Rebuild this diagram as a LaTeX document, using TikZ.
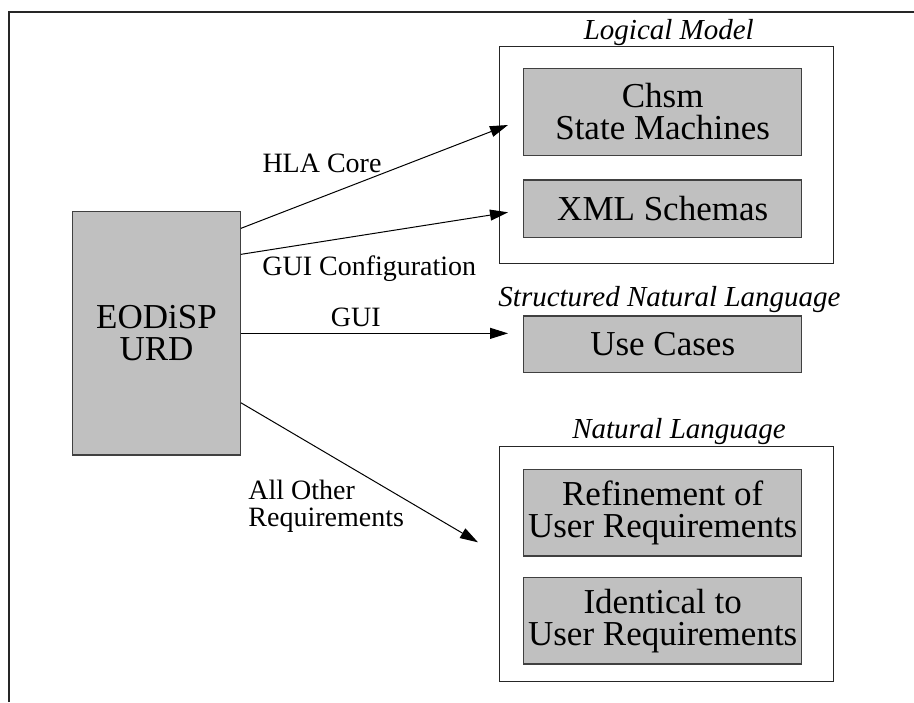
\documentclass[tikz,border=0pt]{standalone}
\usepackage{fontspec}
\setmainfont{Liberation Serif}
\usetikzlibrary{arrows.meta}
\definecolor{boxgray}{RGB}{192,192,192}
\begin{document}
\begin{tikzpicture}[x=0.5pt,y=-0.5pt,
  graybox/.style={draw=black!75, line width=0.6pt, fill=boxgray, inner sep=0pt,
    align=center, font=\fontsize{17.5}{16}\selectfont},
  groupbox/.style={draw=black!85, line width=0.5pt, inner sep=0pt},
  heading/.style={font=\fontsize{14.5}{16}\selectfont\itshape, inner sep=0pt, anchor=base},
  flowlabel/.style={font=\fontsize{14}{13.7}\selectfont, inner sep=0pt},
  flow/.style={line width=0.5pt, -{Triangle[length=9pt,width=5.5pt]}}]
\useasboundingbox (0,0) rectangle (914,702);

% page frame
\draw[line width=1pt, black!85] (8.5,702) -- (8.5,11.5) -- (914,11.5);

% source document
\node[graybox, minimum width=83.8pt, minimum height=121.65pt] (urd) at (156.5,333.35) {EODiSP\\URD};

% logical model group
\node[groupbox, minimum width=167pt, minimum height=108.15pt] (logical) at (666,154.85) {};
\node[heading] (logicalhead) at (668.8,39) {Logical Model};
\node[graybox, minimum width=139pt, minimum height=43.7pt] (chsm) at (662.7,112) {Chsm\\State Machines};
\node[graybox, minimum width=139pt, minimum height=28.65pt] (xml) at (662.7,208.65) {XML Schemas};

% structured natural language
\node[heading] (structhead) at (669.5,306.7) {Structured Natural Language};
\node[graybox, minimum width=139pt, minimum height=28.35pt] (usecases) at (662.7,344.35) {Use Cases};

% natural language group
\node[groupbox, minimum width=167pt, minimum height=117.15pt] (natural) at (666,563.85) {};
\node[heading] (naturalhead) at (679,438) {Natural Language};
\node[graybox, minimum width=139pt, minimum height=43.35pt] (refine) at (662.7,512.65) {Refinement of\\User Requirements};
\node[graybox, minimum width=139pt, minimum height=43.35pt] (ident) at (662.7,620.65) {Identical to\\User Requirements};

% arrow end points
\coordinate (hlaEnd) at (508,125);
\coordinate (guicfgEnd) at (508,212.3);
\coordinate (guiEnd) at (508,333.35);
\coordinate (otherEnd) at (478,542.3);

% connectors
\draw[flow] ([yshift=52.5pt]urd.east) -- (hlaEnd);
\draw[flow] ([yshift=39.5pt]urd.east) -- (guicfgEnd);
\draw[flow] (urd.east) -- (guiEnd);
\draw[flow] ([yshift=-34.7pt]urd.east) -- (otherEnd);

% connector labels
\node[flowlabel, anchor=base] (hlalabel) at (322,172.7) {HLA Core};
\node[flowlabel, anchor=base] (guicfglabel) at (369.3,275.7) {GUI Configuration};
\node[flowlabel, anchor=base] (guilabel) at (355.8,326.7) {GUI};
\node[flowlabel, align=left, anchor=base west] (otherlabel) at (248,526.7) {All Other\\Requirements};
\end{tikzpicture}
\end{document}
